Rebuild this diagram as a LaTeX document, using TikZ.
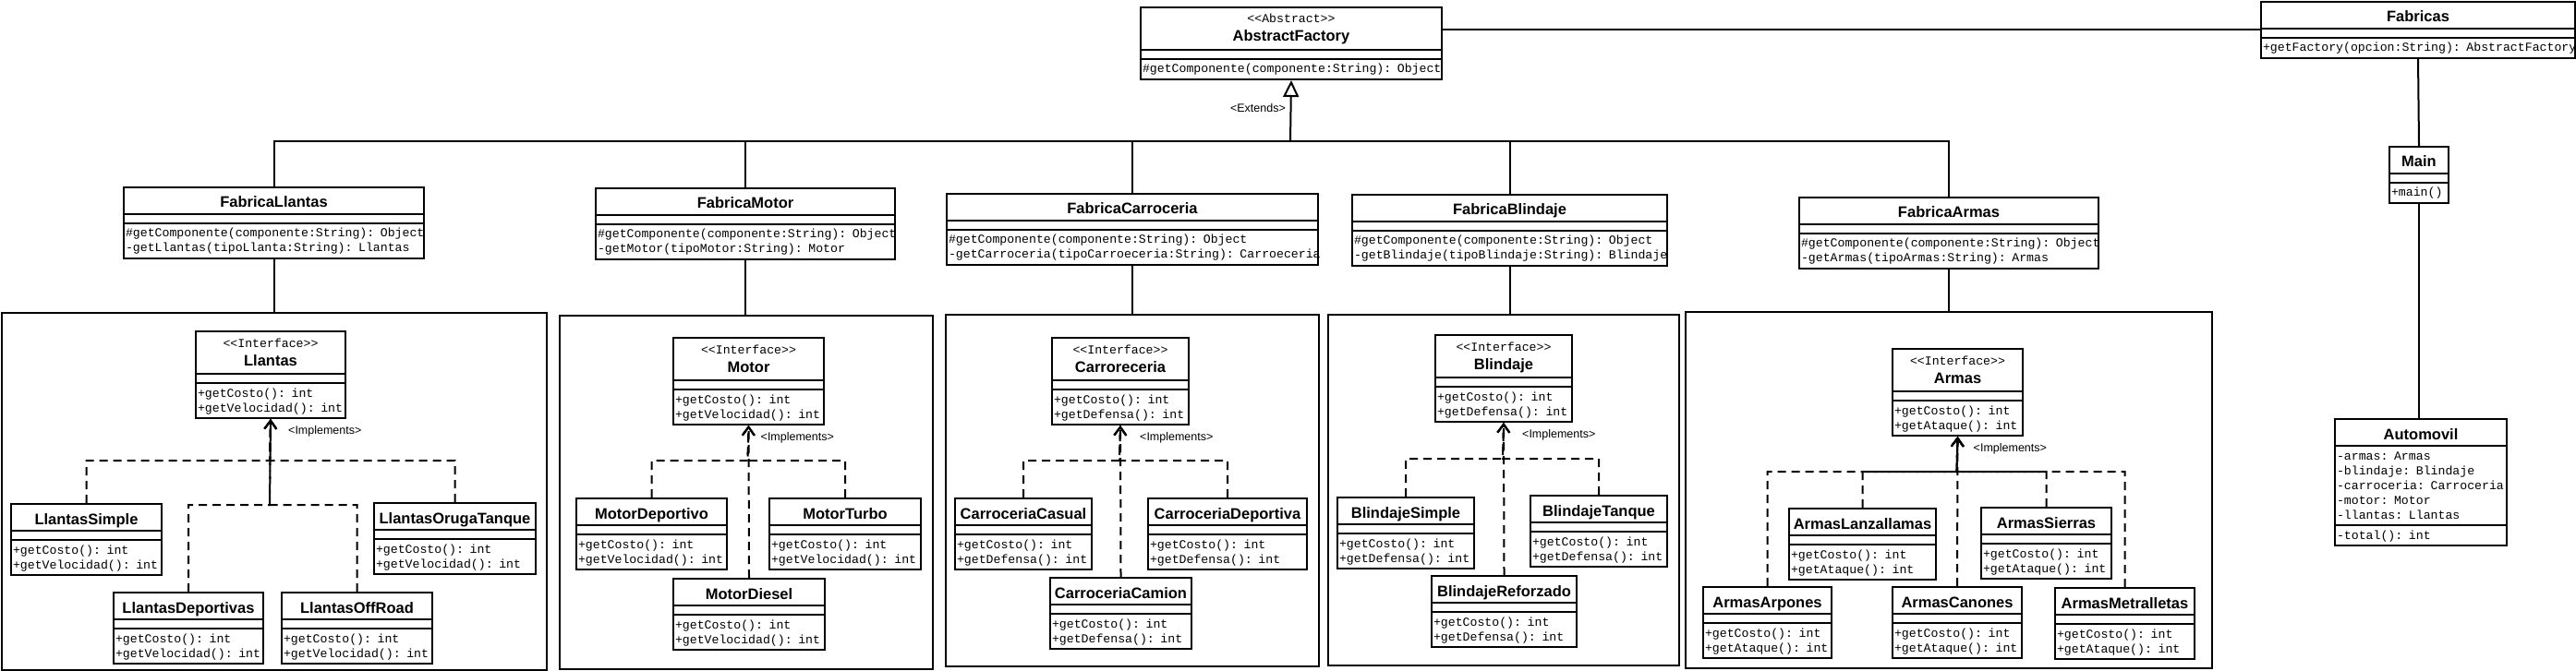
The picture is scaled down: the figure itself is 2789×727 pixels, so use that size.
\documentclass[tikz,border=0pt]{standalone}
\usepackage{fontspec}
\setmainfont{Liberation Sans}
\setsansfont{Liberation Sans}
\setmonofont{Liberation Mono}
\usetikzlibrary{positioning, arrows.meta, shapes.multipart}

\begin{document}
\begin{tikzpicture}[
    % GLOBAL CFG
    x=1pt, y=-1pt,
    font=\sffamily,
    % Styles
    umlclass/.style={% For the class boxes
        rectangle split,
        rectangle split parts=3,
        draw,
        line width=2pt,
        fill=white,
        anchor=north west,
        inner xsep=2pt,
        inner ysep=2pt,
        text width=#1,
        align=left,
        font=\fontsize{13.2pt}{16pt}\selectfont\ttfamily,
        },
    panel/.style={% For the big frames round each family
        rectangle,
        draw,
        line width=2pt,
        anchor=north west,
        },
    mylabel/.style={% Stereotypes on the connectors
        font=\fontsize{12.5pt}{14pt}\selectfont\sffamily,
        inner sep=1pt,
        },
    assoc/.style={% Plain lines
        line width=2pt,
        },
    extends/.style={% Generalization
        line width=2pt,
        -{Triangle[open, length=18pt, width=17pt]},
        },
    implements/.style={% Realization
        line width=2pt,
        dash pattern=on 9pt off 6pt,
        -{Straight Barb[length=9pt, width=13pt]},
        },
    ]

    \newcommand{\clsname}[1]{\noindent{\centering\fontsize{16.5pt}{20pt}\selectfont\sffamily\bfseries\rule[-4pt]{0pt}{23pt}\mbox{#1}\par}}
    \newcommand{\stname}[2]{\noindent{\centering\fontsize{13.2pt}{16pt}\selectfont\ttfamily\rule{0pt}{14pt}<<#1>>\par
        \fontsize{16.5pt}{20pt}\selectfont\sffamily\bfseries\rule[-6pt]{0pt}{6pt}\mbox{#2}\par}}
    \newcommand{\mrow}[1]{\noindent\rule[-4pt]{0pt}{16pt}\mbox{#1}\par}
    \newcommand{\nofields}{\rule{0pt}{4pt}}

    \useasboundingbox (0,0) rectangle (2789,727);

    % Draw the frames
    \node[panel, minimum width=590pt, minimum height=387pt] (pLlantas) at (1,338) {};
    \node[panel, minimum width=404pt, minimum height=383pt] (pMotor) at (605,341) {};
    \node[panel, minimum width=404pt, minimum height=381pt] (pCarroceria) at (1023,340) {};
    \node[panel, minimum width=380pt, minimum height=380pt] (pBlindaje) at (1437,340) {};
    \node[panel, minimum width=570pt, minimum height=386pt] (pArmas) at (1824,337) {};

    % Draw the top classes
    \node[umlclass=322pt] (abstract) at (1234,7) {\stname{Abstract}{AbstractFactory}
        \nodepart{second}\nofields
        \nodepart{third}\mrow{\#getComponente(componente:String): Object}};
    \node[umlclass=336pt] (fabricas) at (2447,1) {\clsname{Fabricas}
        \nodepart{second}\nofields
        \nodepart{third}\mrow{+getFactory(opcion:String): AbstractFactory}};
    \node[umlclass=60pt] (mainC) at (2586,158) {\clsname{Main}
        \nodepart{second}\nofields
        \nodepart{third}\mrow{+main()}};
    \node[umlclass=182pt] (auto) at (2527,453) {\clsname{Automovil}
        \nodepart{second}\mrow{-armas: Armas}\mrow{-blindaje: Blindaje}\mrow{-carroceria: Carroceria}\mrow{-motor: Motor}\mrow{-llantas: Llantas}
        \nodepart{third}\mrow{-total(): int}};

    % Draw the factories
    \node[umlclass=321pt] (fLlantas) at (133,202) {\clsname{FabricaLlantas}
        \nodepart{second}\nofields
        \nodepart{third}\mrow{\#getComponente(componente:String): Object}\mrow{-getLlantas(tipoLlanta:String): Llantas}};
    \node[umlclass=320pt] (fMotor) at (644,203) {\clsname{FabricaMotor}
        \nodepart{second}\nofields
        \nodepart{third}\mrow{\#getComponente(componente:String): Object}\mrow{-getMotor(tipoMotor:String): Motor}};
    \node[umlclass=398pt] (fCarroceria) at (1024,209) {\clsname{FabricaCarroceria}
        \nodepart{second}\nofields
        \nodepart{third}\mrow{\#getComponente(componente:String): Object}\mrow{-getCarroceria(tipoCarroeceria:String): Carroeceria}};
    \node[umlclass=337pt] (fBlindaje) at (1463,210) {\clsname{FabricaBlindaje}
        \nodepart{second}\nofields
        \nodepart{third}\mrow{\#getComponente(componente:String): Object}\mrow{-getBlindaje(tipoBlindaje:String): Blindaje}};
    \node[umlclass=320pt] (fArmas) at (1947,213) {\clsname{FabricaArmas}
        \nodepart{second}\nofields
        \nodepart{third}\mrow{\#getComponente(componente:String): Object}\mrow{-getArmas(tipoArmas:String): Armas}};

    % Draw the interfaces
    \node[umlclass=158pt] (iLlantas) at (211,358) {\stname{Interface}{Llantas}
        \nodepart{second}\nofields
        \nodepart{third}\mrow{+getCosto(): int}\mrow{+getVelocidad(): int}};
    \node[umlclass=159pt] (iMotor) at (728,365) {\stname{Interface}{Motor}
        \nodepart{second}\nofields
        \nodepart{third}\mrow{+getCosto(): int}\mrow{+getVelocidad(): int}};
    \node[umlclass=144pt] (iCarroceria) at (1138,365) {\stname{Interface}{Carroreceria}
        \nodepart{second}\nofields
        \nodepart{third}\mrow{+getCosto(): int}\mrow{+getDefensa(): int}};
    \node[umlclass=144pt] (iBlindaje) at (1553,362) {\stname{Interface}{Blindaje}
        \nodepart{second}\nofields
        \nodepart{third}\mrow{+getCosto(): int}\mrow{+getDefensa(): int}};
    \node[umlclass=137pt] (iArmas) at (2048,377) {\stname{Interface}{Armas}
        \nodepart{second}\nofields
        \nodepart{third}\mrow{+getCosto(): int}\mrow{+getAtaque(): int}};

    % Llantas
    \node[umlclass=159pt] (llSimple) at (11,545) {\clsname{LlantasSimple}
        \nodepart{second}\nofields
        \nodepart{third}\mrow{+getCosto(): int}\mrow{+getVelocidad(): int}};
    \node[umlclass=171pt] (llOruga) at (404,544) {\clsname{LlantasOrugaTanque}
        \nodepart{second}\nofields
        \nodepart{third}\mrow{+getCosto(): int}\mrow{+getVelocidad(): int}};
    \node[umlclass=158pt] (llDeportivas) at (122,641) {\clsname{LlantasDeportivas}
        \nodepart{second}\nofields
        \nodepart{third}\mrow{+getCosto(): int}\mrow{+getVelocidad(): int}};
    \node[umlclass=159pt] (llOffRoad) at (304,641) {\clsname{LlantasOffRoad}
        \nodepart{second}\nofields
        \nodepart{third}\mrow{+getCosto(): int}\mrow{+getVelocidad(): int}};

    % Motor
    \node[umlclass=159pt] (moDeportivo) at (623,539) {\clsname{MotorDeportivo}
        \nodepart{second}\nofields
        \nodepart{third}\mrow{+getCosto(): int}\mrow{+getVelocidad(): int}};
    \node[umlclass=160pt] (moTurbo) at (832,539) {\clsname{MotorTurbo}
        \nodepart{second}\nofields
        \nodepart{third}\mrow{+getCosto(): int}\mrow{+getVelocidad(): int}};
    \node[umlclass=160pt] (moDiesel) at (728,626) {\clsname{MotorDiesel}
        \nodepart{second}\nofields
        \nodepart{third}\mrow{+getCosto(): int}\mrow{+getVelocidad(): int}};

    % Carroceria
    \node[umlclass=144pt] (caCasual) at (1033,539) {\clsname{CarroceriaCasual}
        \nodepart{second}\nofields
        \nodepart{third}\mrow{+getCosto(): int}\mrow{+getDefensa(): int}};
    \node[umlclass=168pt] (caDeportiva) at (1242,539) {\clsname{CarroceriaDeportiva}
        \nodepart{second}\nofields
        \nodepart{third}\mrow{+getCosto(): int}\mrow{+getDefensa(): int}};
    \node[umlclass=149pt] (caCamion) at (1136,625) {\clsname{CarroceriaCamion}
        \nodepart{second}\nofields
        \nodepart{third}\mrow{+getCosto(): int}\mrow{+getDefensa(): int}};

    % Blindaje
    \node[umlclass=144pt] (blSimple) at (1447,538) {\clsname{BlindajeSimple}
        \nodepart{second}\nofields
        \nodepart{third}\mrow{+getCosto(): int}\mrow{+getDefensa(): int}};
    \node[umlclass=144pt] (blTanque) at (1656,536) {\clsname{BlindajeTanque}
        \nodepart{second}\nofields
        \nodepart{third}\mrow{+getCosto(): int}\mrow{+getDefensa(): int}};
    \node[umlclass=153pt] (blReforzado) at (1549,623) {\clsname{BlindajeReforzado}
        \nodepart{second}\nofields
        \nodepart{third}\mrow{+getCosto(): int}\mrow{+getDefensa(): int}};

    % Armas
    \node[umlclass=155pt] (arLanza) at (1936,550) {\clsname{ArmasLanzallamas}
        \nodepart{second}\nofields
        \nodepart{third}\mrow{+getCosto(): int}\mrow{+getAtaque(): int}};
    \node[umlclass=137pt] (arSierras) at (2144,549) {\clsname{ArmasSierras}
        \nodepart{second}\nofields
        \nodepart{third}\mrow{+getCosto(): int}\mrow{+getAtaque(): int}};
    \node[umlclass=135pt] (arArpones) at (1843,635) {\clsname{ArmasArpones}
        \nodepart{second}\nofields
        \nodepart{third}\mrow{+getCosto(): int}\mrow{+getAtaque(): int}};
    \node[umlclass=136pt] (arCanones) at (2048,635) {\clsname{ArmasCanones}
        \nodepart{second}\nofields
        \nodepart{third}\mrow{+getCosto(): int}\mrow{+getAtaque(): int}};
    \node[umlclass=147pt] (arMetra) at (2224,636) {\clsname{ArmasMetralletas}
        \nodepart{second}\nofields
        \nodepart{third}\mrow{+getCosto(): int}\mrow{+getAtaque(): int}};

% Start connecting all.
    % Generalization bus
    \coordinate (extBus) at (1397,153);
    \draw [extends] (extBus) -- (abstract.south);
    \draw [assoc] (fLlantas.north) |- (extBus) -| (fArmas.north);
    \draw [assoc] (fMotor.north) -- (fMotor.north |- extBus);
    \draw [assoc] (fCarroceria.north) -- (fCarroceria.north |- extBus);
    \draw [assoc] (fBlindaje.north) -- (fBlindaje.north |- extBus);
    \node[mylabel, anchor=east] (lblExtends) at ([xshift=-5pt, yshift=-30pt]abstract.south) {<Extends>};

    % Factories to their frames
    \draw [assoc] (fLlantas.south) -- (fLlantas.south |- pLlantas.north);
    \draw [assoc] (fMotor.south) -- (fMotor.south |- pMotor.north);
    \draw [assoc] (fCarroceria.south) -- (fCarroceria.south |- pCarroceria.north);
    \draw [assoc] (fBlindaje.south) -- (fBlindaje.south |- pBlindaje.north);
    \draw [assoc] (fArmas.south) -- (fArmas.south |- pArmas.north);

    % Right side
    \draw [assoc] (fabricas.west) -- (fabricas.west -| abstract.east);
    \draw [assoc] (fabricas.south) -- (mainC.north);
    \draw [assoc] (mainC.south) -- (mainC.south |- auto.north);

    % Llantas realizations
    \coordinate (busLl) at (292,499);
    \coordinate (busLl2) at (292,547);
    \draw [implements] (llSimple.north) |- (busLl) -- (iLlantas.south);
    \draw [implements] (llOruga.north) |- (busLl) -- (iLlantas.south);
    \draw [implements] (llDeportivas.north) |- (busLl2) -- (iLlantas.south);
    \draw [implements] (llOffRoad.north) |- (busLl2) -- (iLlantas.south);
    \node[mylabel, anchor=west] (lblLlantas) at ([xshift=18pt, yshift=-13pt]iLlantas.south) {<Implements>};

    % Motor realizations
    \coordinate (busMo) at (809.5,499);
    \draw [implements] (moDeportivo.north) |- (busMo) -- (iMotor.south);
    \draw [implements] (moTurbo.north) |- (busMo) -- (iMotor.south);
    \draw [implements] (moDiesel.north) -- (iMotor.south);
    \node[mylabel, anchor=west] (lblMotor) at ([xshift=12pt, yshift=-13pt]iMotor.south) {<Implements>};

    % Carroceria realizations
    \coordinate (busCa) at (1212,499);
    \draw [implements] (caCasual.north) |- (busCa) -- (iCarroceria.south);
    \draw [implements] (caDeportiva.north) |- (busCa) -- (iCarroceria.south);
    \draw [implements] (caCamion.north) -- (iCarroceria.south);
    \node[mylabel, anchor=west] (lblCarroceria) at ([xshift=20pt, yshift=-13pt]iCarroceria.south) {<Implements>};

    % Blindaje realizations
    \coordinate (busBl) at (1627,497);
    \draw [implements] (blSimple.north) |- (busBl) -- (iBlindaje.south);
    \draw [implements] (blTanque.north) |- (busBl) -- (iBlindaje.south);
    \draw [implements] (blReforzado.north) -- (iBlindaje.south);
    \node[mylabel, anchor=west] (lblBlindaje) at ([xshift=19pt, yshift=-13pt]iBlindaje.south) {<Implements>};

    % Armas realizations
    \coordinate (busAr) at (2118.5,511);
    \draw [implements] (arArpones.north) |- (busAr) -- (iArmas.south);
    \draw [implements] (arLanza.north) |- (busAr) -- (iArmas.south);
    \draw [implements] (arCanones.north) -- (iArmas.south);
    \draw [implements] (arSierras.north) |- (busAr) -- (iArmas.south);
    \draw [implements] (arMetra.north) |- (busAr) -- (iArmas.south);
    \node[mylabel, anchor=west] (lblArmas) at ([xshift=16pt, yshift=-13pt]iArmas.south) {<Implements>};

\end{tikzpicture}
\end{document}
